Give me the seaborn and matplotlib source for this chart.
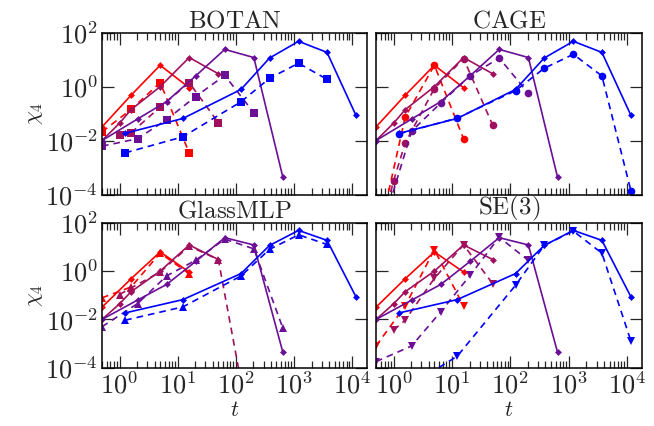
import numpy as np
import pandas as pd
import seaborn as sns
import matplotlib
matplotlib.use("Agg")
import matplotlib.pyplot as plt
from matplotlib.ticker import FixedLocator, NullLocator, LogLocator, FuncFormatter

# ---------------- data ----------------
temps = ["red", "crimson", "violet", "blue"]
colors = {"red": "#ff0000", "crimson": "#a0105e", "violet": "#6a0f96", "blue": "#0000ff"}

# ground truth (solid lines, same in every panel)
t_red = [0.5, 1.58, 5.0, 15.8]
t_crim = [0.5, 1.0, 1.58, 5.0, 15.8, 50.0]
t_vio = [0.5, 2.04, 6.45, 20.4, 64.5, 204.0, 645.0]
t_blue = [1.25, 12.3, 123.0, 380.0, 1200.0, 3700.0, 11600.0]

gt_red = [0.032, 0.48, 6.2, 0.91]
gt_crim = [0.01, 0.044, 0.14, 1.0, 12.0, 3.0]
gt_vio = [0.01, 0.063, 0.28, 2.5, 24.0, 12.0, 4.3e-4]
gt_blue = [0.0186, 0.066, 0.79, 11.5, 48.0, 18.6, 0.087]

# model predictions (dashed lines)
botan_t_red, botan_red = [0.5, 1.58, 5.0, 15.8], [0.021, 0.143, 1.41, 0.0035]
botan_t_crim, botan_crim = [1.0, 1.58, 5.0, 15.8, 50.0], [0.0166, 0.0195, 0.174, 1.41, 0.046]
botan_t_vio, botan_vio = [0.5, 2.04, 6.45, 20.4, 64.5, 204.0], [0.0062, 0.0117, 0.060, 0.43, 2.6, 0.107]
botan_t_blue, botan_blue = [1.25, 12.3, 123.0, 380.0, 1200.0, 3700.0], [0.0035, 0.0138, 0.275, 2.04, 7.4, 1.86]

cage_t_red, cage_red = [0.5, 1.58, 5.0, 15.8], [1e-6, 0.074, 6.2, 0.0117]
cage_t_crim, cage_crim = [0.5, 1.0, 1.58, 5.0, 15.8, 50.0], [1e-6, 3.2e-4, 0.0081, 0.85, 11.0, 0.037]
cage_t_vio, cage_vio = [0.5, 2.04, 6.45, 20.4, 64.5, 204.0], [1e-6, 0.0224, 0.25, 2.5, 11.5, 0.56]
cage_t_blue, cage_blue = [1.25, 12.3, 123.0, 380.0, 1200.0, 3700.0, 11600.0], [0.0178, 0.068, 0.71, 4.8, 15.8, 2.5, 1.4e-4]

mlp_t_red, mlp_red = [0.5, 1.58, 5.0, 15.8], [0.078, 0.22, 5.5, 0.78]
mlp_t_crim, mlp_crim = [1.0, 1.58, 5.0, 15.8, 50.0, 158.0], [0.107, 0.2, 0.91, 10.7, 3.0, 1e-6]
mlp_t_vio, mlp_vio = [0.5, 2.04, 6.45, 20.4, 64.5, 204.0, 645.0], [0.005, 0.045, 0.63, 2.8, 21.0, 8.3, 0.0043]
mlp_t_blue, mlp_blue = [1.25, 12.3, 123.0, 380.0, 1200.0, 3700.0], [0.0093, 0.033, 0.63, 7.9, 31.6, 12.6]

se3_t_red, se3_red = [0.5, 1.58, 5.0, 15.8], [8e-4, 0.036, 7.6, 0.036]
se3_t_crim, se3_crim = [1.0, 1.58, 5.0, 15.8, 50.0], [0.0036, 0.0093, 0.5, 12.0, 0.3]
se3_t_vio, se3_vio = [0.5, 2.04, 6.45, 20.4, 64.5, 204.0], [1.8e-4, 8e-4, 0.021, 0.66, 25.0, 2.75]
se3_t_blue, se3_blue = [1.25, 12.3, 123.0, 380.0, 1200.0, 3700.0, 11600.0], [1e-5, 3e-4, 0.26, 11.5, 45.0, 5.5, 0.0013]

models = ["BOTAN", "CAGE", "GlassMLP", "SE(3)"]
model_markers = {"BOTAN": "s", "CAGE": "o", "GlassMLP": "^", "SE(3)": "v"}

gt = {"red": (t_red, gt_red), "crimson": (t_crim, gt_crim),
      "violet": (t_vio, gt_vio), "blue": (t_blue, gt_blue)}
pred = {
    "BOTAN": {"red": (botan_t_red, botan_red), "crimson": (botan_t_crim, botan_crim),
              "violet": (botan_t_vio, botan_vio), "blue": (botan_t_blue, botan_blue)},
    "CAGE": {"red": (cage_t_red, cage_red), "crimson": (cage_t_crim, cage_crim),
             "violet": (cage_t_vio, cage_vio), "blue": (cage_t_blue, cage_blue)},
    "GlassMLP": {"red": (mlp_t_red, mlp_red), "crimson": (mlp_t_crim, mlp_crim),
                 "violet": (mlp_t_vio, mlp_vio), "blue": (mlp_t_blue, mlp_blue)},
    "SE(3)": {"red": (se3_t_red, se3_red), "crimson": (se3_t_crim, se3_crim),
              "violet": (se3_t_vio, se3_vio), "blue": (se3_t_blue, se3_blue)},
}

# ---------------- style ----------------
sns.set_theme(style="ticks")
plt.rcParams["font.family"] = ["DejaVu Serif"]
plt.rcParams["mathtext.fontset"] = "cm"

fig = plt.figure(figsize=(6.54, 4.26), dpi=100)
W, H = 654.0, 426.0
boxes = {
    "BOTAN": (102, 32.7, 367, 194.5),
    "CAGE": (376, 32.7, 642, 194.5),
    "GlassMLP": (102, 222.7, 367, 367.8),
    "SE(3)": (376, 222.7, 642, 367.8),
}

fmt = FuncFormatter(lambda v, p: r"$10^{%d}$" % int(round(np.log10(v))))

for i, m in enumerate(models):
    x0, y0, x1, y1 = boxes[m]
    ax = fig.add_axes([x0 / W, 1 - y1 / H, (x1 - x0) / W, (y1 - y0) / H])
    ax.set_xscale("log")
    ax.set_yscale("log")
    for T in temps:
        tt, vv = gt[T]
        sns.lineplot(x=tt, y=vv, ax=ax, color=colors[T], marker="D", markersize=3.5,
                     markeredgewidth=0, linewidth=1.2, sort=False, errorbar=None)
        tp, vp = pred[m][T]
        sns.lineplot(x=tp, y=vp, ax=ax, color=colors[T], marker=model_markers[m],
                     markersize=5.5, markeredgewidth=0, linewidth=1.2, linestyle=(0, (4, 3)),
                     sort=False, errorbar=None)
    ax.set_xlim(0.5, 1.8e4)
    ax.set_ylim(1e-4, 1e2)
    ax.yaxis.set_major_locator(FixedLocator([1e-4, 1e-2, 1, 1e2]))
    ax.yaxis.set_minor_locator(NullLocator())
    ax.xaxis.set_major_locator(FixedLocator([1, 10, 100, 1000, 10000]))
    ax.xaxis.set_minor_locator(LogLocator(base=10, subs=np.arange(2, 10), numticks=20))
    ax.xaxis.set_major_formatter(fmt)
    ax.yaxis.set_major_formatter(fmt)
    ax.tick_params(which="both", direction="in", top=True, right=True, width=0.9)
    ax.tick_params(which="major", length=8.5, labelsize=19, pad=3)
    ax.tick_params(which="minor", length=5)
    for s in ax.spines.values():
        s.set_linewidth(1.1)
        s.set_color("black")
    ax.set_title(r"$\mathrm{%s}$" % m, fontsize=18, pad=1)
    if i % 2 == 1:
        ax.set_yticklabels([])
    else:
        ax.set_ylabel(r"$\chi_4$", fontsize=16, labelpad=0)
    if i < 2:
        ax.set_xticklabels([])
    else:
        ax.set_xlabel(r"$t$", fontsize=16, labelpad=0)

fig.savefig("out.png", dpi=100)
